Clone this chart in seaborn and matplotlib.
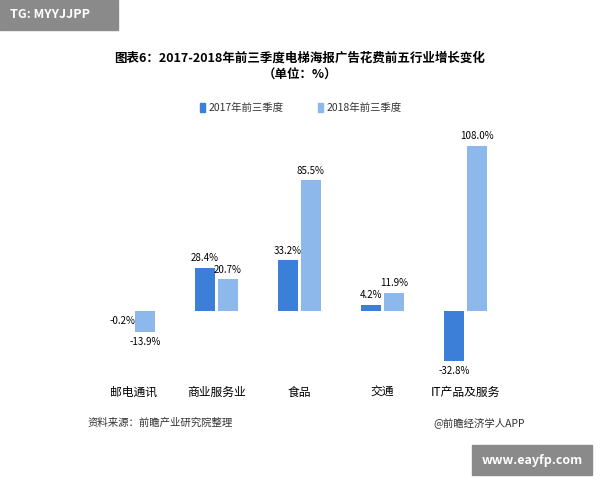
import matplotlib
matplotlib.use("Agg")
import matplotlib.pyplot as plt
import seaborn as sns
import pandas as pd

plt.rcParams["font.family"] = ["Noto Sans CJK SC"]

categories = ["邮电通讯", "商业服务业", "食品", "交通", "IT产品及服务"]
v2017 = [-0.2, 28.4, 33.2, 4.2, -32.8]
v2018 = [-13.9, 20.7, 85.5, 11.9, 108.0]
series = ["2017年前三季度", "2018年前三季度"]
colors = ["#3C7FD9", "#8DB8EC"]

df = pd.DataFrame({
    "cat": categories * 2,
    "val": v2017 + v2018,
    "ser": [series[0]] * 5 + [series[1]] * 5,
})

fig = plt.figure(figsize=(6, 4.8), dpi=100)
fig.patch.set_facecolor("white")
ax = fig.add_axes([92 / 600, 1 - 380 / 480, 415 / 600, 245 / 480])
sns.barplot(data=df, x="cat", y="val", hue="ser", palette=colors, ax=ax,
            width=0.55, gap=0.15, legend=False, saturation=1)
ax.set_ylim(-45, 115)
for s in ax.spines.values():
    s.set_visible(False)
ax.set_yticks([])
ax.tick_params(axis="x", length=0, labelsize=8.5, pad=4)
ax.set_xlabel("")
ax.set_ylabel("")
for c in ax.containers:
    for bar in c:
        h = bar.get_height()
        x = bar.get_x() + bar.get_width() / 2
        if h >= 0:
            ax.text(x, h + 3, f"{h:.1f}%", ha="center", va="bottom", fontsize=7)
        else:
            ax.text(x, h - 3, f"{h:.1f}%", ha="center", va="top", fontsize=7)

fig.text(0.5, 1 - 58 / 480, "图表6：2017-2018年前三季度电梯海报广告花费前五行业增长变化",
         ha="center", va="center", fontsize=9, fontweight="bold")
fig.text(0.5, 1 - 75 / 480, "（单位：%）", ha="center", va="center", fontsize=9, fontweight="bold")

# legend
for i, (lab, col) in enumerate(zip(series, colors)):
    x0 = 200 + i * 118
    fig.patches.append(plt.Rectangle((x0 / 600, 1 - 112 / 480), 5 / 600, 9 / 480,
                                     transform=fig.transFigure, color=col))
    fig.text((x0 + 9) / 600, 1 - 108 / 480, lab, va="center", fontsize=7.5, color="#333333")

fig.text(88 / 600, 1 - 423 / 480, "资料来源：前瞻产业研究院整理", fontsize=7.5,
         style="italic", va="center", color="#333333")
fig.text(525 / 600, 1 - 423 / 480, "@前瞻经济学人APP", fontsize=7.5,
         ha="right", va="center", color="#333333")

fig.patches.append(plt.Rectangle((0, 1 - 30 / 480), 118 / 600, 30 / 480,
                                 transform=fig.transFigure, color="#8a8a8a"))
fig.text(10 / 600, 1 - 15 / 480, "TG: MYYJJPP", color="white", fontsize=9,
         fontweight="bold", va="center")
fig.patches.append(plt.Rectangle((472 / 600, 0.01), 120 / 600, 30 / 480,
                                 transform=fig.transFigure, color="#8a8a8a"))
fig.text(532 / 600, 0.01 + 15 / 480, "www.eayfp.com", color="white", fontsize=9,
         fontweight="bold", va="center", ha="center")

fig.savefig("out.png", dpi=100)
